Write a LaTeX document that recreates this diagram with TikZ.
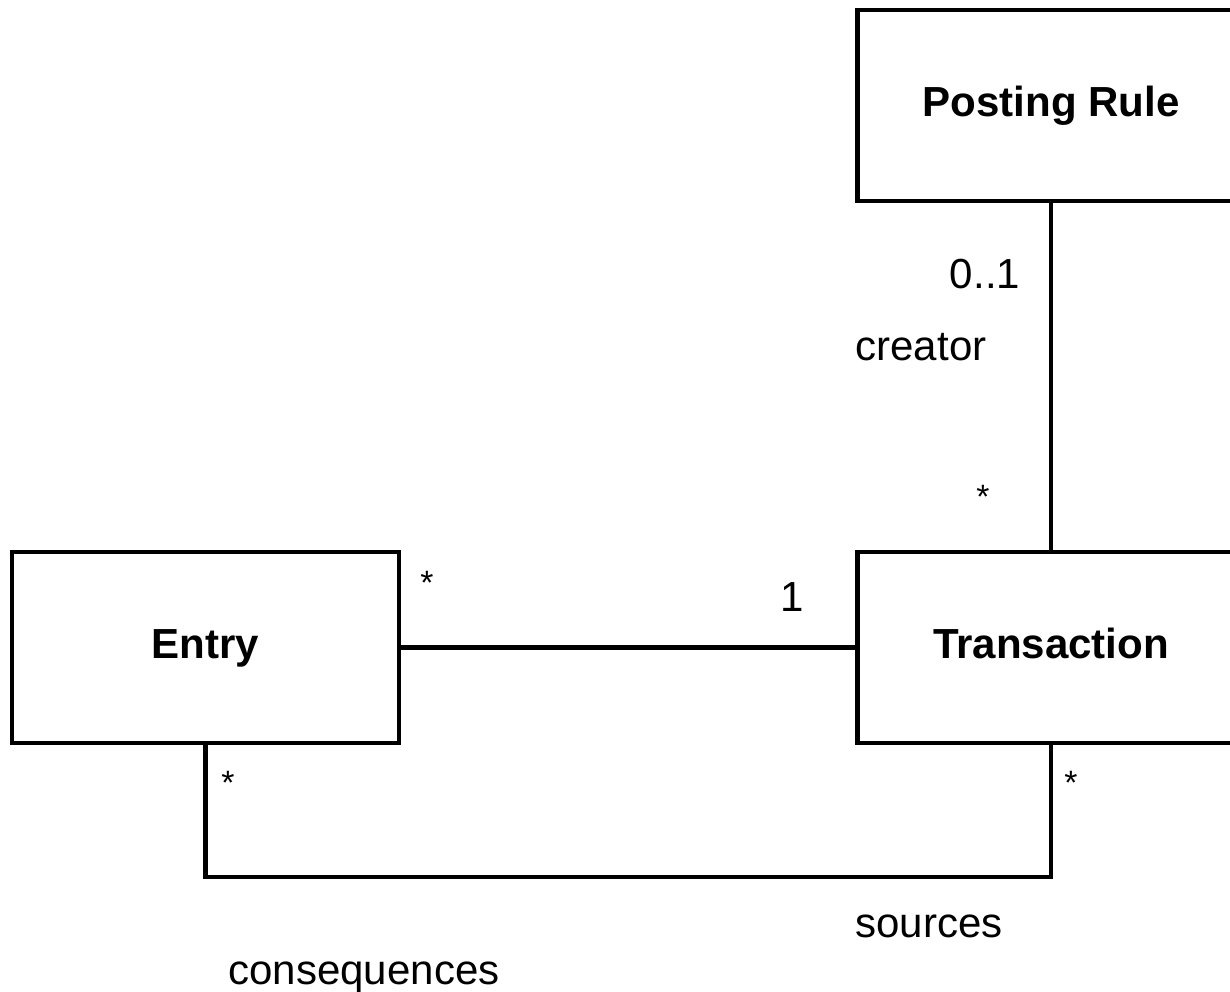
\documentclass[tikz,border=0pt]{standalone}
\usepackage{fontspec}
\setmainfont{Liberation Sans}
\usetikzlibrary{arrows}
\newcommand{\labelsize}{\fontsize{29.9}{36}\selectfont}
\tikzset{
	class/.style={draw, line width=3pt, minimum width=9.675cm,
		minimum height=4.775cm, inner sep=0pt,
		text height=22pt, text depth=6pt,
		font=\labelsize\bfseries},
	role/.style={anchor=base, inner sep=0pt, font=\labelsize},
	mult/.style={anchor=center, inner sep=0pt,
		font=\fontsize{24}{28}\selectfont}
}

\begin{document}
\begin{tikzpicture}[x=0.025cm, y=-0.025cm]
	\path [use as bounding box, clip] (0,0) rectangle (1230,992);
	\node [class] (1) at (205.5,647.5) 
		{Entry};
	\node [class] (2) at (1051,647.5) 
		{Transaction};
	\node [class] (3) at (1051,105.5) 
		{Posting Rule};
	\draw [ line width=3pt ] (1) to (2);
	\draw [ line width=3pt ] (3) to (2);
	\draw [ line width=3pt ] (1.south) -- ++(0,132) 
		-| (2.south);
	% multiplicities and role names
	\node [role] (4) at (985,288) {0..1};
	\node [role] (5) at (921,360) {creator};
	\node [mult] (6) at (983,497) {*};
	\node [mult] (7) at (427,583) {*};
	\node [role] (8) at (792,611) {1};
	\node [mult] (9) at (228,783) {*};
	\node [mult] (10) at (1071,783) {*};
	\node [role] (11) at (929,937) {sources};
	\node [role] (12) at (364,984) {consequences};
\end{tikzpicture}
\end{document}
